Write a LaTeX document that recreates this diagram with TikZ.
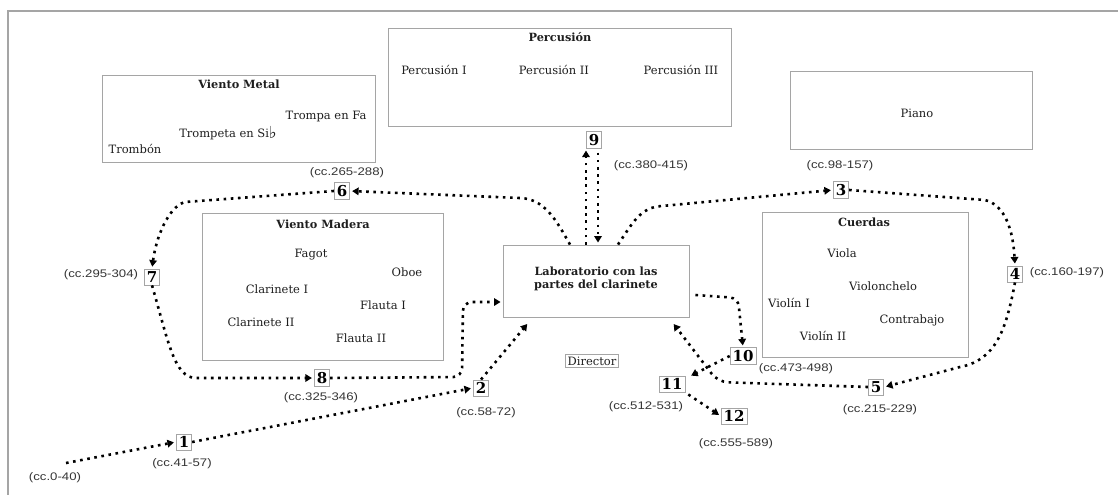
\documentclass[tikz,border=0pt]{standalone}
\usepackage{fontspec}
\setmainfont{DejaVu Serif}
\newfontfamily\lblfont[FakeStretch=1.2]{Liberation Sans}
\newfontfamily\symfont{DejaVu Sans}
\usetikzlibrary{arrows.meta,calc}
\definecolor{boxgray}{RGB}{165,165,165}
\definecolor{txt}{RGB}{30,30,30}
\tikzset{
  grp/.style={draw=boxgray,line width=0.9pt,fill=white},
  item/.style={text=txt,font=\fontsize{11.5}{13}\selectfont,inner sep=0pt},
  ttl/.style={text=txt,font=\fontsize{11.3}{13.5}\selectfont\bfseries,inner sep=0pt},
  num/.style={draw=boxgray,line width=0.8pt,fill=white,text=black,
    font=\fontsize{15}{15}\selectfont\bfseries,inner xsep=2.5pt,inner ysep=2.5pt},
  lbl/.style={text=txt!90,font=\lblfont\fontsize{11}{12}\selectfont,inner sep=0pt},
  flow/.style={line width=2.6pt,dash pattern=on 2.6pt off 4.6pt,
    -{Triangle[length=6.5pt,width=7.5pt]},shorten >=2pt},
}
\begin{document}
\begin{tikzpicture}[x=1pt,y=-1pt]
\useasboundingbox (0,0) rectangle (1118,495);
\fill[white] (0,0) rectangle (1118,495);
% frame
\draw[boxgray,line width=1.4pt] (1118,11) -- (8,11) -- (8,495);

% group boxes
\node[grp,minimum width=343pt,minimum height=98pt] (perc) at (559.5,77) {};
\node[ttl] (perct) at (560,37) {Percusión};
\node[item] (p1) at (434,70) {Percusión I};
\node[item] (p2) at (554,70) {Percusión II};
\node[item] (p3) at (681,70) {Percusión III};

\node[grp,minimum width=273pt,minimum height=87pt] (metal) at (238.5,118.5) {};
\node[ttl] (metalt) at (239,84) {Viento Metal};
\node[item] (m1) at (326,117) {Trompa en Fa};
\node[item] (m2) at (228,133) {Trompeta en Si\raisebox{-0.5pt}{\scalebox{1.5}{\symfont\fontsize{11}{11}\selectfont ♭}}};
\node[item] (m3) at (135,149) {Trombón};

\node[grp,minimum width=242pt,minimum height=78pt] (piano) at (911,110) {};
\node[item] (pianot) at (917,113) {Piano};

\node[grp,minimum width=241pt,minimum height=147pt] (madera) at (322.5,286.5) {};
\node[ttl] (maderat) at (323,224) {Viento Madera};
\node[item] (w1) at (311,255) {Fagot};
\node[item] (w2) at (407,272) {Oboe};
\node[item] (w3) at (277,289) {Clarinete I};
\node[item] (w4) at (383,305) {Flauta I};
\node[item] (w5) at (261,322) {Clarinete II};
\node[item] (w6) at (361,338) {Flauta II};

\node[grp,minimum width=206pt,minimum height=145pt] (cuerdas) at (865,284.5) {};
\node[ttl] (cuerdast) at (864,222) {Cuerdas};
\node[item] (c1) at (842,253) {Viola};
\node[item] (c2) at (883,286) {Violonchelo};
\node[item] (c3) at (789,303) {Violín I};
\node[item] (c4) at (912,320) {Contrabajo};
\node[item] (c5) at (823,336) {Violín II};

\node[grp,minimum width=186pt,minimum height=72pt] (lab) at (596,281) {};
\node[ttl,align=center] (labt) at (596,279) {Laboratorio con las\\partes del clarinete};

\node[grp,line width=0.8pt,text=txt,font=\fontsize{11.5}{13}\selectfont,inner xsep=2.5pt,inner ysep=2.5pt] (dir) at (592,361) {Director};

% numbers
\node[num] (n1) at (184,442) {1};
\node[num] (n2) at (481,388) {2};
\node[num] (n3) at (841,190) {3};
\node[num] (n4) at (1015,274) {4};
\node[num] (n5) at (876,387) {5};
\node[num] (n6) at (342,191) {6};
\node[num] (n7) at (152,277) {7};
\node[num] (n8) at (322,378) {8};
\node[num] (n9) at (594,140) {9};
\node[num] (n10) at (743,356) {10};
\node[num] (n11) at (672,384) {11};
\node[num] (n12) at (734,416) {12};

% labels
\node[lbl] (l0) at (55,478) {(cc.0-40)};
\node[lbl] (l1) at (182,464) {(cc.41-57)};
\node[lbl] (l2) at (486,413) {(cc.58-72)};
\node[lbl] (l3) at (840,166) {(cc.98-157)};
\node[lbl] (l4) at (1067,273) {(cc.160-197)};
\node[lbl] (l5) at (880,410) {(cc.215-229)};
\node[lbl] (l6) at (347,173) {(cc.265-288)};
\node[lbl] (l7) at (101,275) {(cc.295-304)};
\node[lbl] (l8) at (321,398) {(cc.325-346)};
\node[lbl] (l9) at (651,166) {(cc.380-415)};
\node[lbl] (l10) at (796,369) {(cc.473-498)};
\node[lbl] (l11) at (646,407) {(cc.512-531)};
\node[lbl] (l12) at (736,444) {(cc.555-589)};

% connectors
\coordinate (s0) at (66,463);
\draw[flow] (s0) -- (n1.west);
\draw[flow] (n1.east) -- (n2.west);
\draw[flow] (n2.north) -- ([xshift=26pt,yshift=-5pt]lab.south west);
\draw[flow] (n3.east) -- (985,200) .. controls (1005,205) and (1013,230) .. (n4.north);
\draw[flow] (n4.south) .. controls (1006,330) and (996,360) .. (960,367) -- (n5.east);
\draw[flow,rounded corners=10pt] (n5.west) -- (718,382) -- ([xshift=-17pt,yshift=-5pt]lab.south east);
\draw[flow] ([xshift=-26pt]lab.north) .. controls (556,220) and (545,199) .. (520,198) -- (n6.east);
\draw[flow] (n6.west) -- (185,202) .. controls (168,207) and (156,238) .. (n7.north);
\draw[flow] (n7.south) .. controls (168,340) and (174,378) .. (196,378) -- (n8.west);
\draw[flow,rounded corners=9pt] (n8.east) -- (462,377) -- (463,302) -- ([yshift=-21pt]lab.west);
\draw[flow] ([xshift=-8pt]n9.south |- lab.north) -- ([xshift=-8pt]n9.south);
\draw[flow] ([xshift=4pt,yshift=-4pt]n9.south) -- ([xshift=4pt]n9.south |- lab.north);
\draw[flow] ([xshift=22pt]lab.north) .. controls (632,224) and (640,207) .. (662,206) -- (n3.west);
\draw[flow,rounded corners=8pt] ([xshift=6pt,yshift=-14pt]lab.east) -- (738,298) -- (n10.north);
\draw[flow] (n10.west) -- ([xshift=4pt,yshift=-1pt]n11.north east);
\draw[flow] ([xshift=3pt,yshift=-2pt]n11.south east) -- (n12.west);
\end{tikzpicture}
\end{document}
